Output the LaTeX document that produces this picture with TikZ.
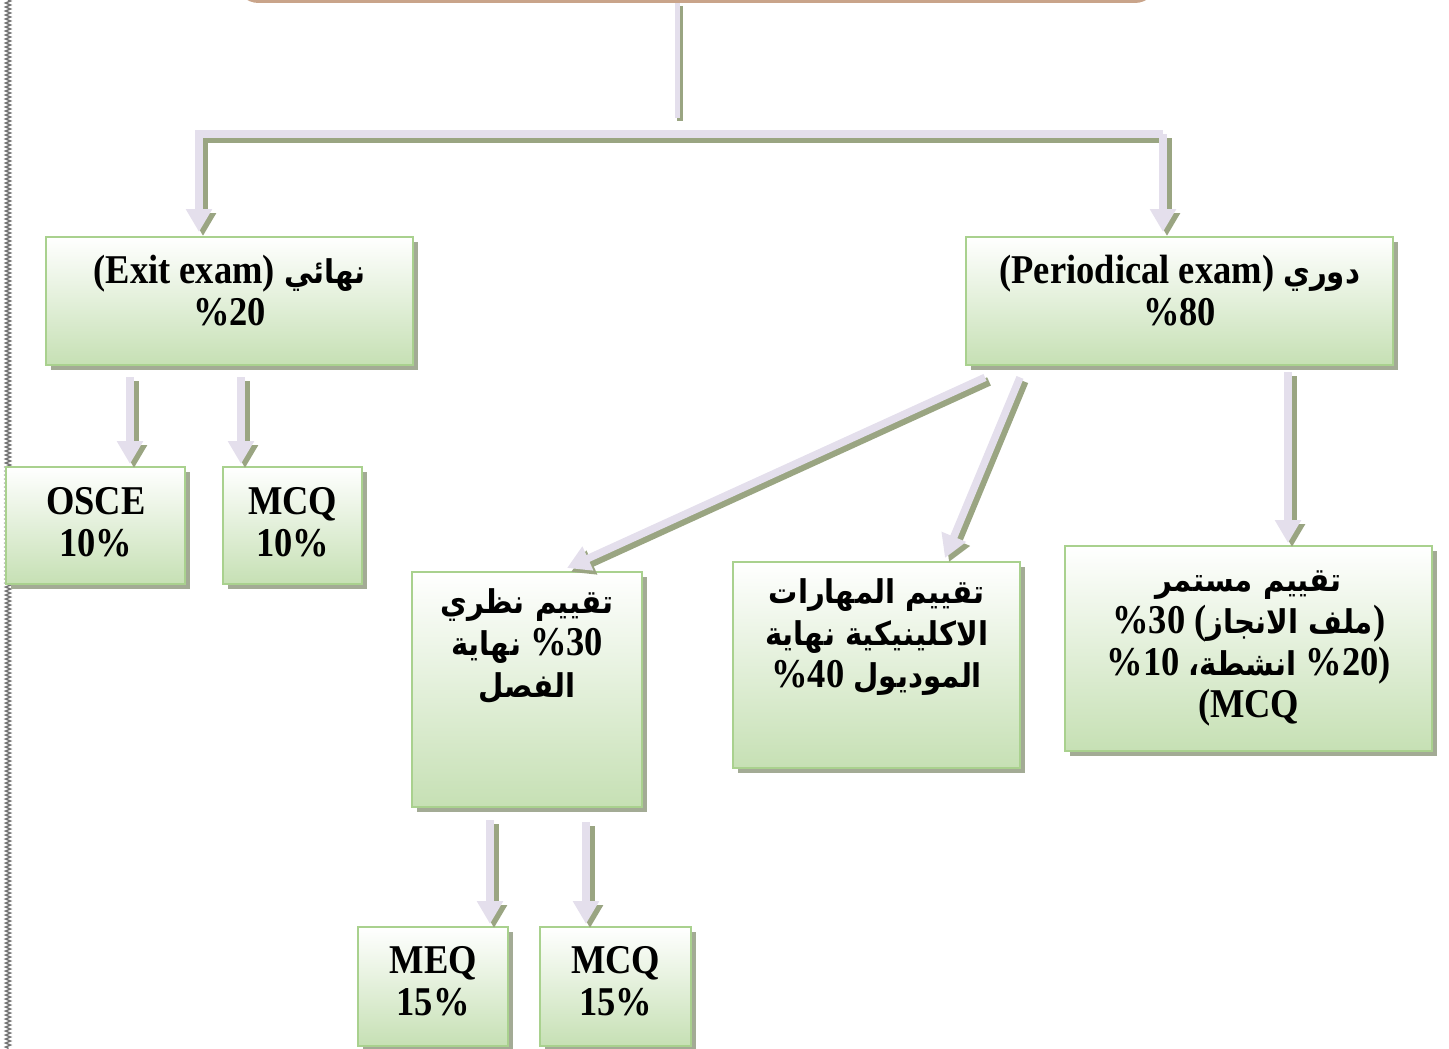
\documentclass[tikz,border=0pt]{standalone}
\usepackage{fontspec}
\usepackage{graphicx}
\setmainfont{Liberation Serif}
\newfontfamily\arabicfont[Script=Arabic,Scale=0.8]{DejaVu Sans}
\TeXXeTstate=1
\usetikzlibrary{calc,arrows.meta,shadows,decorations.pathmorphing}
\definecolor{lav}{HTML}{E4DFEC}
\definecolor{flowshade}{HTML}{9AA582}
\definecolor{boxline}{HTML}{A9D18E}
\definecolor{boxfill}{HTML}{C6E0B4}
\definecolor{boxshade}{HTML}{A3AB95}
\definecolor{rootline}{HTML}{C9A48A}
\tikzset{
  panel/.style={draw=boxline, line width=2.4pt, top color=white, bottom color=boxfill,
    general shadow={fill=boxshade, shadow xshift=5pt, shadow yshift=-5pt},
    anchor=north west, inner xsep=2pt, inner ysep=0pt,
    font=\bfseries\fontsize{36.5}{37.5}\selectfont},
  flow/.style={draw=lav, line width=7.5pt, line join=miter, -{Triangle[width=25pt,length=23pt]},
    preaction={draw=flowshade, line width=9pt, -{Triangle[width=25pt,length=23pt]},
      transform canvas={xshift=4pt,yshift=-4pt}}},
  stem/.style={draw=lav, line width=5pt,
    preaction={draw=flowshade, line width=6pt, transform canvas={xshift=3pt,yshift=-3pt}}},
  border/.style={draw=black!55, line width=1.4pt, decorate,
    decoration={zigzag, segment length=4pt, amplitude=2.5pt}}
}
\newcommand{\AR}[1]{{\arabicfont\beginR #1\endR}}
\newcommand{\Txt}[1]{\scalebox{1}[1.12]{\begin{tabular}[t]{@{}c@{}}#1\end{tabular}}}

\begin{document}
\begin{tikzpicture}[x=1pt,y=-1pt]
  \useasboundingbox (0,0) rectangle (1449,1049);
  \draw[border] (8,0) -- (8,1049);

  % top box, cut by the page
  \node[draw=rootline, line width=3.5pt, rounded corners=22pt, fill=white,
    minimum width=920pt, minimum height=60pt, anchor=south west, inner sep=0pt] (root) at (235,3) {};

  % first level
  \node[panel, minimum width=367pt, minimum height=128pt, text height=46pt, text depth=82pt] (exit) at (45,236)
    {\Txt{(Exit exam) \AR{نهائي}\\\%20}};
  \node[panel, minimum width=427pt, minimum height=128pt, text height=46pt, text depth=82pt] (peri) at (965,236)
    {\Txt{(Periodical exam) \AR{دوري}\\\%80}};

  % exit exam parts
  \node[panel, minimum width=179pt, minimum height=117pt, text height=47pt, text depth=70pt] (osce) at (5,466)
    {\Txt{OSCE\\10\%}};
  \node[panel, minimum width=139pt, minimum height=117pt, text height=47pt, text depth=70pt] (mcqa) at (222,466)
    {\Txt{MCQ\\10\%}};

  % periodical parts
  \node[panel, minimum width=230pt, minimum height=235pt, text height=41pt, text depth=194pt] (theory) at (411,571)
    {\Txt{\AR{تقييم نظري}\\\AR{نهاية} \%30\\\AR{الفصل}}};
  \node[panel, minimum width=287pt, minimum height=206pt, text height=41pt, text depth=165pt] (clinic) at (732,561)
    {\Txt{\AR{تقييم المهارات}\\\AR{الاكلينيكية نهاية}\\\%40 \AR{الموديول}}};
  \node[panel, minimum width=367pt, minimum height=205pt, text height=45pt, text depth=160pt] (cont) at (1064,545)
    {\Txt{\AR{تقييم مستمر}\\\%30 (\AR{ملف الانجاز})\\\%10 \AR{انشطة،} \%20)\\(MCQ}};

  % theory parts
  \node[panel, minimum width=150pt, minimum height=119pt, text height=46pt, text depth=73pt] (meq) at (357,926)
    {\Txt{MEQ\\15\%}};
  \node[panel, minimum width=151pt, minimum height=119pt, text height=46pt, text depth=73pt] (mcqb) at (539,926)
    {\Txt{MCQ\\15\%}};

  % connectors
  \coordinate (stemend) at (677,118);
  \coordinate (barL) at (199,134);
  \coordinate (barR) at (1163,134);
  \draw[stem] (root.south -| stemend) -- (stemend);
  \draw[flow] (barR) -- (barL) -- ([yshift=4pt]barL |- exit.north);
  \draw[flow] (barR) -- ([yshift=4pt]barR |- peri.north);

  \draw[flow] ($(exit.south west)+(85,11)$) -- ($(osce.north west)+(125,-2)$);
  \draw[flow] ($(exit.south west)+(196,11)$) -- ($(mcqa.north west)+(19,-2)$);

  \draw[flow] ($(peri.south west)+(20,11)$) -- ($(theory.north west)+(156,-3)$);
  \draw[flow] ($(peri.south west)+(55,11)$) -- ($(clinic.north west)+(213,-3)$);
  \draw[flow] ($(peri.south west)+(323,6)$) -- ($(cont.north west)+(224,-2)$);

  \draw[flow] ($(theory.south west)+(79,12)$) -- ($(meq.north west)+(133,-2)$);
  \draw[flow] ($(theory.south west)+(175,14)$) -- ($(mcqb.north west)+(47,-2)$);
\end{tikzpicture}
\end{document}
